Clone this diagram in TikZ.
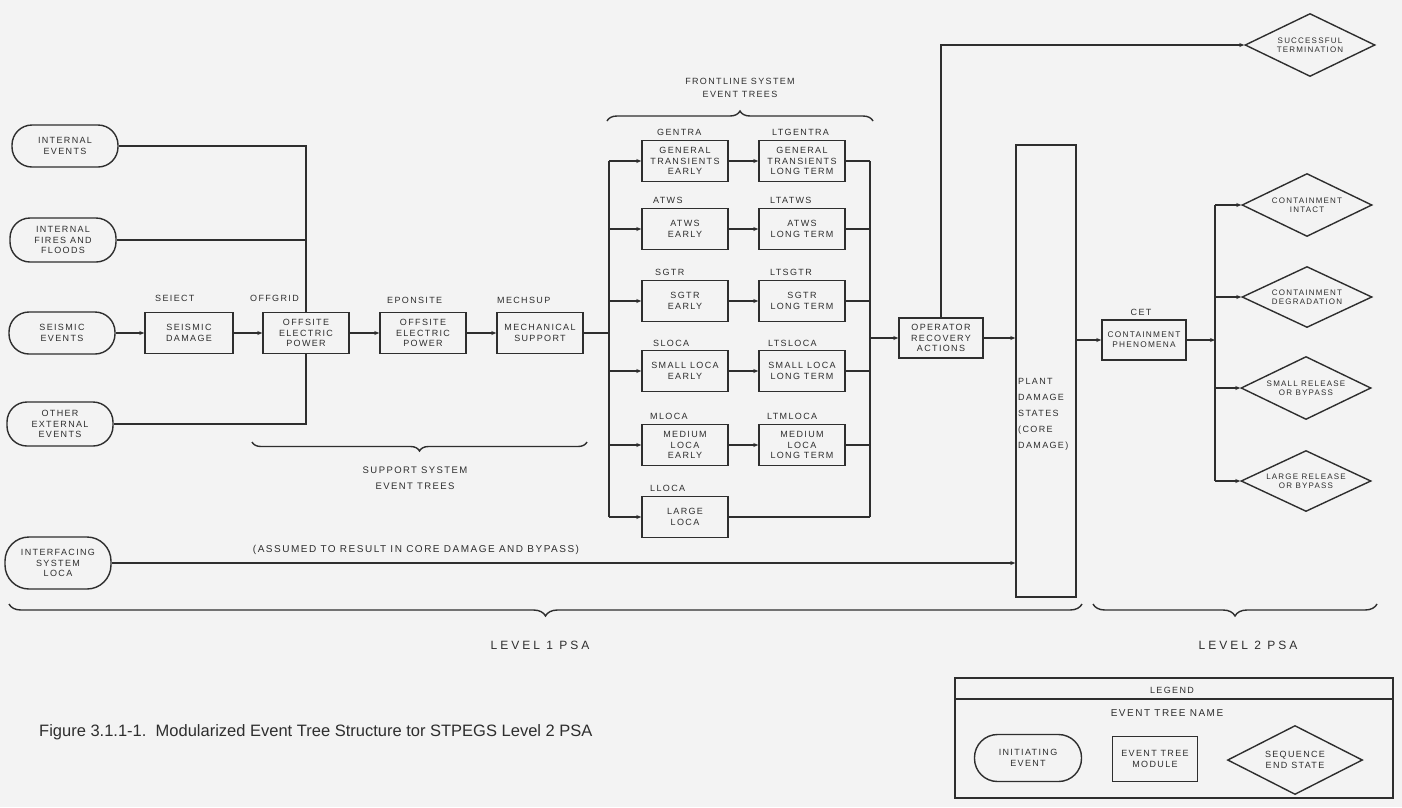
\documentclass[tikz,border=0pt]{standalone}
\usepackage{fontspec}
\setmainfont{Liberation Sans}
\newfontfamily\dgf[LetterSpace=15]{Liberation Sans}
\newfontfamily\lvf[LetterSpace=25]{Liberation Sans}
\usetikzlibrary{shapes.geometric,arrows.meta,decorations.pathreplacing}
\definecolor{ink}{HTML}{2E2E2E}
\definecolor{paper}{HTML}{F3F3F3}
\begin{document}
\begin{tikzpicture}[x=1pt,y=-1pt,
  txt/.style={font=\dgf\fontsize{9}{10.5}\selectfont, text=ink, align=center},
  ev/.style={txt, draw=ink, line width=1.4pt, rectangle, rounded corners=20pt, minimum width=106pt, minimum height=42pt, inner sep=0pt},
  mod/.style={txt, draw=ink, line width=1.4pt, rectangle, minimum width=86pt, minimum height=41pt, inner sep=0pt},
  endst/.style={txt, font=\dgf\fontsize{8}{9}\selectfont, draw=ink, line width=1.4pt, diamond, aspect=2, minimum width=130pt, minimum height=63pt, inner sep=0pt},
  nm/.style={txt, inner sep=1pt},
  nml/.style={nm, anchor=west},
  cn/.style={draw=ink, line width=1.4pt},
  ar/.style={cn, -{Stealth[length=5pt,width=4pt]}},
  brc/.style={cn, decorate, decoration={brace, amplitude=#1}},
  brm/.style={cn, decorate, decoration={brace, mirror, amplitude=#1}}
]
\fill[paper] (0,0) rectangle (1402,807);
\useasboundingbox (0,0) rectangle (1402,807);

% ---------- initiating events ----------
\node[ev] (ie) at (65,146) {INTERNAL\\EVENTS};
\node[ev, minimum height=44pt] (ifl) at (63,240) {INTERNAL\\FIRES AND\\FLOODS};
\node[ev] (se) at (62,333) {SEISMIC\\EVENTS};
\node[ev, minimum height=44pt] (oee) at (60,424) {OTHER\\EXTERNAL\\EVENTS};
\node[ev, minimum height=52pt, rounded corners=24pt] (isl) at (58,563) {INTERFACING\\SYSTEM\\LOCA};

% ---------- support system modules ----------
\node[mod, minimum width=88pt] (sd) at (189,333) {SEISMIC\\DAMAGE};
\node[mod] (og) at (306,333) {OFFSITE\\ELECTRIC\\POWER};
\node[mod] (eps) at (423,333) {OFFSITE\\ELECTRIC\\POWER};
\node[mod] (ms) at (540,333) {MECHANICAL\\SUPPORT};
\node[nml] (l-sd) at (154,298) {SEIECT};
\node[nml] (l-og) at (249,298) {OFFGRID};
\node[nml] (l-eps) at (386,300) {EPONSITE};
\node[nml] (l-ms) at (496,300) {MECHSUP};

% ---------- frontline modules ----------
\node[mod] (gentra) at (685,161) {GENERAL\\TRANSIENTS\\EARLY};
\node[mod] (ltgentra) at (802,161) {GENERAL\\TRANSIENTS\\LONG TERM};
\node[mod] (atws) at (685,229) {ATWS\\EARLY};
\node[mod] (ltatws) at (802,229) {ATWS\\LONG TERM};
\node[mod] (sgtr) at (685,301) {SGTR\\EARLY};
\node[mod] (ltsgtr) at (802,301) {SGTR\\LONG TERM};
\node[mod] (sloca) at (685,371) {SMALL LOCA\\EARLY};
\node[mod] (ltsloca) at (802,371) {SMALL LOCA\\LONG TERM};
\node[mod] (mloca) at (685,445) {MEDIUM\\LOCA\\EARLY};
\node[mod] (ltmloca) at (802,445) {MEDIUM\\LOCA\\LONG TERM};
\node[mod] (lloca) at (685,517) {LARGE\\LOCA};
\node[nml] (l-gentra) at (656,132) {GENTRA};
\node[nml] (l-ltgentra) at (771,132) {LTGENTRA};
\node[nml] (l-atws) at (652,200) {ATWS};
\node[nml] (l-ltatws) at (769,200) {LTATWS};
\node[nml] (l-sgtr) at (654,272) {SGTR};
\node[nml] (l-ltsgtr) at (769,272) {LTSGTR};
\node[nml] (l-sloca) at (652,343) {SLOCA};
\node[nml] (l-ltsloca) at (767,343) {LTSLOCA};
\node[nml] (l-mloca) at (649,416) {MLOCA};
\node[nml] (l-ltmloca) at (766,416) {LTMLOCA};
\node[nml] (l-lloca) at (649,488) {LLOCA};

% ---------- level 2 part ----------
\node[mod, minimum width=84pt, minimum height=40pt] (ora) at (941,338) {OPERATOR\\RECOVERY\\ACTIONS};
\node[draw=ink, line width=1.4pt, minimum width=60pt, minimum height=452pt, inner sep=0pt] (pds) at (1046,371) {};
\node[txt, align=left, anchor=north west, inner sep=1pt, font=\dgf\fontsize{9}{16}\selectfont] (pdst) at (1017,377) {PLANT\\DAMAGE\\STATES\\(CORE\\DAMAGE)};
\node[mod, minimum width=84pt, minimum height=40pt, font=\dgf\fontsize{8.3}{10}\selectfont] (cet) at (1144,340) {CONTAINMENT\\PHENOMENA};
\node[nm] (l-cet) at (1141,312) {CET};

\node[endst] (st) at (1310,45) {SUCCESSFUL\\TERMINATION};
\node[endst] (ci) at (1307,205) {CONTAINMENT\\INTACT};
\node[endst, minimum height=61pt] (cd) at (1307,297) {CONTAINMENT\\DEGRADATION};
\node[endst] (sr) at (1306,388) {SMALL RELEASE\\OR BYPASS};
\node[endst, minimum height=61pt] (lr) at (1306,481) {LARGE RELEASE\\OR BYPASS};

% ---------- bus coordinates ----------
\coordinate (lb) at (609,0);
\coordinate (rb) at (870,0);
\coordinate (b2) at (1215,0);

% ---------- connectors: initiating / support ----------
\draw[cn] (ie.east) -| (og.north);
\draw[cn] (ifl.east) -- (ifl.east -| og.north);
\draw[cn] (oee.east) -| (og.south);
\draw[ar] (se.east) -- (sd.west);
\draw[ar] (sd.east) -- (og.west);
\draw[ar] (og.east) -- (eps.west);
\draw[ar] (eps.east) -- (ms.west);
\draw[cn] (ms.east) -- (ms.east -| lb);

% ---------- connectors: frontline ----------
\draw[cn] (gentra.west -| lb) -- (lloca.west -| lb);
\foreach \n in {gentra,atws,sgtr,sloca,mloca,lloca}
  \draw[ar] (\n.west -| lb) -- (\n.west);
\foreach \a/\b in {gentra/ltgentra,atws/ltatws,sgtr/ltsgtr,sloca/ltsloca,mloca/ltmloca}
  \draw[ar] (\a.east) -- (\b.west);
\foreach \n in {ltgentra,ltatws,ltsgtr,ltsloca,ltmloca,lloca}
  \draw[cn] (\n.east) -- (\n.east -| rb);
\draw[cn] (ltgentra.east -| rb) -- (lloca.east -| rb);
\draw[ar] (ora.west -| rb) -- (ora.west);

% ---------- connectors: level 2 ----------
\draw[ar] (ora.north) |- (st.west);
\draw[ar] (ora.east) -- (ora.east -| pds.west);
\draw[ar] (isl.east) -- (isl.east -| pds.west);
\draw[ar] (cet.west -| pds.east) -- (cet.west);
\draw[ar] (cet.east) -- (cet.east -| b2);
\draw[cn] (ci.west -| b2) -- (lr.west -| b2);
\foreach \n in {ci,cd,sr,lr}
  \draw[ar] (\n.west -| b2) -- (\n.west);

% ---------- braces and group labels ----------
\draw[brc=10pt] (607,121) -- (873,121);
\node[nm, font=\dgf\fontsize{9}{13}\selectfont] (fst) at (740,88) {FRONTLINE SYSTEM\\EVENT TREES};
\draw[brm=9pt] (252,442) -- (587,442);
\node[nm, font=\dgf\fontsize{9.5}{16}\selectfont] (sst) at (415,478) {SUPPORT SYSTEM\\EVENT TREES};
\node[nm, font=\dgf\fontsize{10}{12}\selectfont] (asm) at (416,550) {(ASSUMED TO RESULT IN CORE DAMAGE AND BYPASS)};
\draw[brm=12pt] (9,604) -- (1082,604);
\draw[brm=12pt] (1093,604) -- (1377,604);
\node[nm, font=\lvf\fontsize{12}{14}\selectfont] (lv1) at (540,645) {LEVEL 1 PSA};
\node[nm, font=\lvf\fontsize{12}{14}\selectfont] (lv2) at (1248,645) {LEVEL 2 PSA};

% ---------- legend ----------
\node[draw=ink, line width=1.4pt, minimum width=438pt, minimum height=120pt, inner sep=0pt] (leg) at (1174,738) {};
\draw[cn] (leg.west |- 0,699) -- (leg.east |- 0,699);
\node[nm] (legt) at (1172,690) {LEGEND};
\node[nm, font=\dgf\fontsize{10}{12}\selectfont] (legn) at (1167,713) {EVENT TREE NAME};
\node[ev, minimum width=107pt, minimum height=47pt, rounded corners=23pt] (lie) at (1028,758) {INITIATING\\EVENT};
\node[mod, minimum width=85pt, minimum height=45pt] (lmod) at (1155,759) {EVENT TREE\\MODULE};
\node[endst, font=\dgf\fontsize{9}{10.5}\selectfont, minimum width=135pt, minimum height=69pt] (lend) at (1295,760) {SEQUENCE\\END STATE};

% ---------- caption ----------
\node[anchor=west, text=ink, inner sep=0pt, font=\fontsize{16.5}{18}\selectfont] (cap) at (39,732) {Figure 3.1.1-1.\ \ Modularized Event Tree Structure tor STPEGS Level 2 PSA};
\end{tikzpicture}
\end{document}
